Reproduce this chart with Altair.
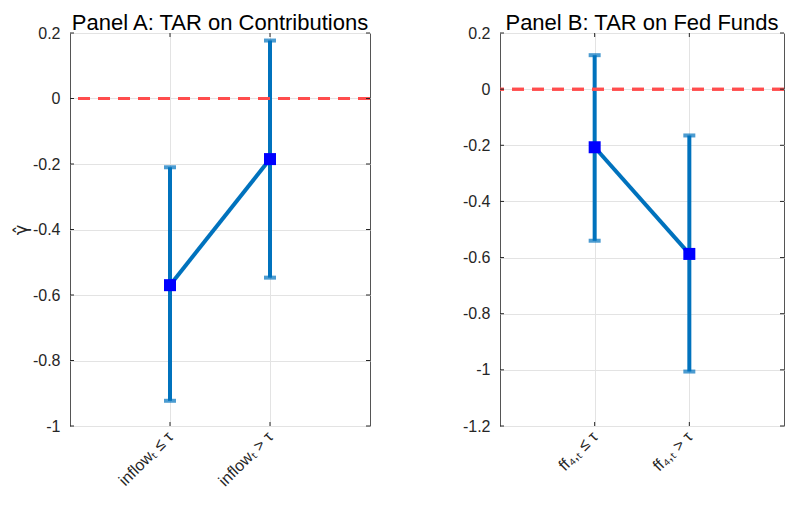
import altair as alt
import pandas as pd

# ---- data ----
positions = [1, 2]
cats_a = ["inflowₜ ≤ τ", "inflowₜ > τ"]
est_a = [-0.57, -0.185]
lo_a = [-0.923, -0.547]
hi_a = [-0.21, 0.177]

cats_b = ["ff₄,ₜ ≤ τ", "ff₄,ₜ > τ"]
est_b = [-0.207, -0.587]
lo_b = [-0.54, -1.006]
hi_b = [0.121, -0.165]

yticks_a = [-1, -0.8, -0.6, -0.4, -0.2, 0, 0.2]
yticks_b = [-1.2, -1, -0.8, -0.6, -0.4, -0.2, 0, 0.2]
xticks = [1, 2]

BLUE = "#0072BD"
MARK = "#0000FF"
RED = "#FF4D4D"
AXC = "#262626"
FONT = "Liberation Sans"
H = 393


def panel(title, cats, est, lo, hi, yticks, ydom, width, ytitle):
    df = pd.DataFrame({"pos": positions, "cat": cats, "est": est, "lo": lo, "hi": hi})
    label_expr = (
        f"datum.value == 1 ? '{cats[0]}' : (datum.value == 2 ? '{cats[1]}' : '')"
    )
    xscale = alt.Scale(domain=[0, 3], nice=False, zero=False)
    yscale = alt.Scale(domain=ydom, nice=False, zero=False)
    yaxis_kw = dict(
        values=yticks,
        labelExpr="replace(format(datum.value, '~g'), '−', '-')",
        grid=True,
        ticks=False,
        domain=False,
        labelPadding=10,
        labelFontSize=16,
        minExtent=40,
        maxExtent=40,
    )
    if ytitle:
        yaxis_kw.update(title=ytitle, titleFontSize=18, titleFontWeight="normal",
                        titlePadding=0, titleColor=AXC, titleFont="DejaVu Sans")
    else:
        yaxis_kw.update(title=None)
    x = alt.X(
        "pos:Q",
        scale=xscale,
        axis=alt.Axis(
            values=xticks,
            labelExpr=label_expr,
            labelAngle=315,
            labelAlign="right",
            labelBaseline="middle",
            grid=True,
            ticks=False,
            domain=False,
            title=None,
            labelPadding=8,
            labelFontSize=16,
        ),
    )
    base = alt.Chart(df)
    err = base.mark_rule(color=BLUE, strokeWidth=4).encode(
        x=x,
        y=alt.Y("lo:Q", scale=yscale, axis=alt.Axis(**yaxis_kw)),
        y2="hi:Q",
    )
    zero = base.mark_rule(color=RED, strokeDash=[12, 8], strokeWidth=3).encode(
        y=alt.datum(0)
    )
    cap_lo = base.mark_tick(orient="horizontal", color=BLUE, thickness=4, size=12).encode(
        x="pos:Q", y="lo:Q"
    )
    cap_hi = base.mark_tick(orient="horizontal", color=BLUE, thickness=4, size=12).encode(
        x="pos:Q", y="hi:Q"
    )
    line = base.mark_line(color=BLUE, strokeWidth=4).encode(x="pos:Q", y="est:Q")
    pts = base.mark_square(size=144, color=MARK, opacity=1, filled=True).encode(
        x="pos:Q", y="est:Q"
    )
    ydf = pd.DataFrame({"v": yticks})
    xdf = pd.DataFrame({"v": xticks})
    ytl = alt.Chart(ydf).mark_rule(color=AXC, strokeWidth=1).encode(
        y="v:Q", x=alt.value(0), x2=alt.value(4))
    ytr = alt.Chart(ydf).mark_rule(color=AXC, strokeWidth=1).encode(
        y="v:Q", x=alt.value(width - 4), x2=alt.value(width))
    xtb = alt.Chart(xdf).mark_rule(color=AXC, strokeWidth=1).encode(
        x="v:Q", y=alt.value(H - 4), y2=alt.value(H))
    xtt = alt.Chart(xdf).mark_rule(color=AXC, strokeWidth=1).encode(
        x="v:Q", y=alt.value(0), y2=alt.value(4))
    return alt.layer(err, zero, cap_lo, cap_hi, line, pts, ytl, ytr, xtb, xtt).properties(
        width=width,
        height=H,
        title=alt.TitleParams(title, fontSize=22, fontWeight="normal", font=FONT,
                              color="black", offset=-10, frame="group"),
    )


pa = panel("Panel A: TAR on Contributions", cats_a, est_a, lo_a, hi_a, yticks_a,
           [-1, 0.2], 300, "γ̂")
pb = panel("Panel B: TAR on Fed Funds", cats_b, est_b, lo_b, hi_b, yticks_b,
           [-1.2, 0.2], 284, None)

chart = (
    alt.hconcat(pa, pb, spacing=87)
    .properties(padding={"left": 3, "top": 3, "right": 0, "bottom": 0})
    .configure_view(stroke="#555555", strokeWidth=1)
    .configure_axis(gridColor="#e3e3e3", labelFont=FONT, labelColor=AXC)
)

chart.save("out.html", embed_options={"renderer": "svg", "actions": False})
